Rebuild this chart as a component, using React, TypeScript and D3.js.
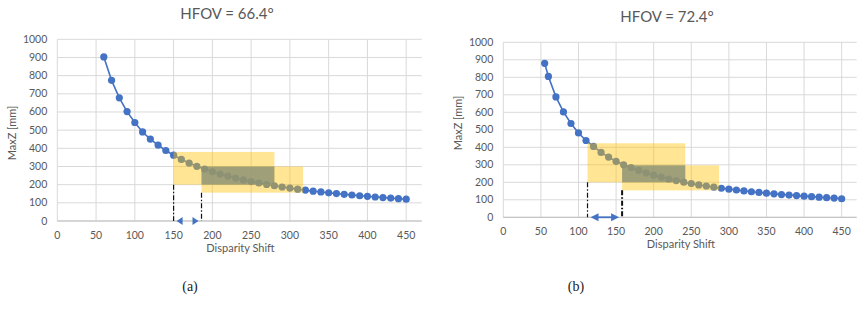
import React, { useEffect, useRef } from 'react';
import * as d3 from 'd3';

// disparity shift values and the MaxZ
const shiftA = [60, 70, 80, 90, 100, 110, 120, 130, 140, 150, 160, 170, 180, 190, 200, 210, 220, 230, 240, 250,
  260, 270, 280, 290, 300, 310, 320, 330, 340, 350, 360, 370, 380, 390, 400, 410, 420, 430, 440, 450];
const maxZA = [903, 774, 678, 602, 542, 490, 451, 418, 388, 362, 339, 319, 301, 285, 271, 258, 247, 236, 226, 217,
  209, 201, 194, 187, 181, 175, 170, 164, 160, 155, 151, 147, 143, 139, 136, 132, 129, 126, 123, 120];

const shiftB = [55, 60, 70, 80, 90, 100, 110, 120, 130, 140, 150, 160, 170, 180, 190, 200, 210, 220, 230, 240, 250,
  260, 270, 280, 290, 300, 310, 320, 330, 340, 350, 360, 370, 380, 390, 400, 410, 420, 430, 440, 450];
const maxZB = [880, 805, 688, 602, 536, 482, 439, 405, 371, 344, 320, 300, 284, 268, 254, 241, 230, 219, 210, 201, 193,
  185, 179, 172, 166, 161, 156, 151, 146, 142, 138, 134, 130, 127, 124, 121, 118, 115, 112, 110, 106];

// highlighted ranges [x0, x1, y0, y1] in data units
const boxesA = [[150, 280, 200, 380], [186, 317, 156, 300]];
const boxesB = [[112, 242, 200, 423], [158, 287, 154, 297]];

const xTicks = [0, 50, 100, 150, 200, 250, 300, 350, 400, 450];
const yTicks = [0, 100, 200, 300, 400, 500, 600, 700, 800, 900, 1000];

const BLUE = '#4472C4';
const TEXT = '#595959';
const FONT = 'Lato, "Open Sans", sans-serif';

interface PanelProps {
  shift: number[];
  maxZ: number[];
  boxes: number[][];
  title: string;
  caption: string;
  plot: { left: number; right: number; top: number; bottom: number };
  titleX: number;
  titleY: number;
  yLabelX: number;
  yLabelY: number;
  captionX: number;
  arrowLine: boolean;
  boldRight: boolean;
}

const Panel: React.FC<PanelProps> = (p) => {
  const gRef = useRef<SVGGElement>(null);

  useEffect(() => {
    if (!gRef.current) return;
    const g = d3.select(gRef.current);
    g.selectAll('*').remove();

    const x = d3.scaleLinear().domain([0, 470]).range([p.plot.left, p.plot.right]);
    const y = d3.scaleLinear().domain([0, 1000]).range([p.plot.bottom, p.plot.top]);

    // grid
    g.append('g').selectAll('line').data(yTicks).join('line')
      .attr('x1', x(0)).attr('x2', x(470))
      .attr('y1', d => y(d)).attr('y2', d => y(d))
      .attr('stroke', '#d9d9d9').attr('stroke-width', 1);
    g.append('g').selectAll('line').data(xTicks).join('line')
      .attr('x1', d => x(d)).attr('x2', d => x(d))
      .attr('y1', y(0)).attr('y2', y(1000))
      .attr('stroke', '#d9d9d9').attr('stroke-width', 1);
    g.append('line')
      .attr('x1', x(0)).attr('x2', x(470)).attr('y1', y(0)).attr('y2', y(0))
      .attr('stroke', '#bfbfbf');

    // tick labels
    g.append('g').selectAll('text').data(yTicks).join('text')
      .attr('x', x(0) - 10).attr('y', d => y(d) + 3.5)
      .attr('text-anchor', 'end').attr('font-size', 10.5).attr('fill', TEXT)
      .attr('font-family', FONT).text(d => d);
    g.append('g').selectAll('text').data(xTicks).join('text')
      .attr('x', d => x(d)).attr('y', y(0) + 17.5)
      .attr('text-anchor', 'middle').attr('font-size', 10.5).attr('fill', TEXT)
      .attr('font-family', FONT).text(d => d);

    // series
    const pts = p.shift.map((s, i) => [s, p.maxZ[i]] as [number, number]);
    g.append('path').datum(pts)
      .attr('fill', 'none').attr('stroke', BLUE).attr('stroke-width', 1.6)
      .attr('d', d3.line<[number, number]>().x(d => x(d[0])).y(d => y(d[1])));
    g.append('g').selectAll('circle').data(pts).join('circle')
      .attr('cx', d => x(d[0])).attr('cy', d => y(d[1])).attr('r', 3.6)
      .attr('fill', BLUE);

    // highlighted boxes
    p.boxes.forEach(b => {
      g.append('rect')
        .attr('x', x(b[0])).attr('width', x(b[1]) - x(b[0]))
        .attr('y', y(b[3])).attr('height', y(b[2]) - y(b[3]))
        .attr('fill', '#FFC000').attr('fill-opacity', 0.42);
    });
    const [a, b] = p.boxes;
    const ox0 = Math.max(a[0], b[0]), ox1 = Math.min(a[1], b[1]);
    const oy0 = Math.max(a[2], b[2]), oy1 = Math.min(a[3], b[3]);
    g.append('rect')
      .attr('x', x(ox0)).attr('width', x(ox1) - x(ox0))
      .attr('y', y(oy1)).attr('height', y(oy0) - y(oy1))
      .attr('fill', '#7a8a88').attr('fill-opacity', 0.72);

    // dash-dot guides down to the axis
    p.boxes.forEach((bx, i) => {
      g.append('line')
        .attr('x1', x(bx[0])).attr('x2', x(bx[0]))
        .attr('y1', y(bx[2])).attr('y2', y(0))
        .attr('stroke', '#111').attr('stroke-width', i === 1 && p.boldRight ? 2 : 1.2)
        .attr('stroke-dasharray', '5,2,1.5,2');
    });

    // double arrow
    const ax0 = x(a[0]) + 3, ax1 = x(b[0]) - 3, ay = y(0);
    if (p.arrowLine) {
      g.append('line').attr('x1', ax0 + 4).attr('x2', ax1 - 4).attr('y1', ay).attr('y2', ay)
        .attr('stroke', BLUE).attr('stroke-width', 1.8);
    }
    const hw = p.arrowLine ? 8 : 6;
    g.append('path')
      .attr('d', `M${ax0},${ay} l${hw},-4 l0,8 Z M${ax1},${ay} l-${hw},-4 l0,8 Z`)
      .attr('fill', BLUE);

    // titles and axis labels
    g.append('text').attr('x', p.titleX).attr('y', p.titleY)
      .attr('text-anchor', 'middle').attr('font-size', 15).attr('fill', TEXT)
      .attr('font-family', FONT).text(p.title);
    g.append('text').attr('x', (x(0) + x(470)) / 2 + 1).attr('y', y(0) + 30.5)
      .attr('text-anchor', 'middle').attr('font-size', 11).attr('fill', TEXT)
      .attr('font-family', FONT).text('Disparity Shift');
    g.append('text')
      .attr('transform', `translate(${p.yLabelX},${p.yLabelY}) rotate(-90)`)
      .attr('text-anchor', 'middle').attr('dy', '0.35em').attr('font-size', 11)
      .attr('fill', TEXT).attr('font-family', FONT).text('MaxZ [mm]');
    g.append('text').attr('x', p.captionX).attr('y', 291)
      .attr('text-anchor', 'middle').attr('font-size', 14).attr('fill', '#222')
      .attr('font-family', '"Liberation Serif", serif').text(p.caption);
  }, [p]);

  return <g ref={gRef} />;
};

export default function App() {
  return (
    <svg width={857} height={318} style={{ position: 'fixed', left: 0, top: 0, background: '#fff' }}>
      <rect width={857} height={318} fill="#fff" />
      <Panel shift={shiftA} maxZ={maxZA} boxes={boxesA} title="HFOV = 66.4°" caption="(a)"
        plot={{ left: 57.3, right: 421.7, top: 39.3, bottom: 221 }}
        titleX={227} titleY={18.5} yLabelX={12} yLabelY={133} captionX={190}
        arrowLine={false} boldRight={false} />
      <Panel shift={shiftB} maxZ={maxZB} boxes={boxesB} title="HFOV = 72.4°" caption="(b)"
        plot={{ left: 503.3, right: 856.7, top: 42.3, bottom: 217.3 }}
        titleX={667} titleY={22} yLabelX={458} yLabelY={123} captionX={576}
        arrowLine={true} boldRight={true} />
    </svg>
  );
}
